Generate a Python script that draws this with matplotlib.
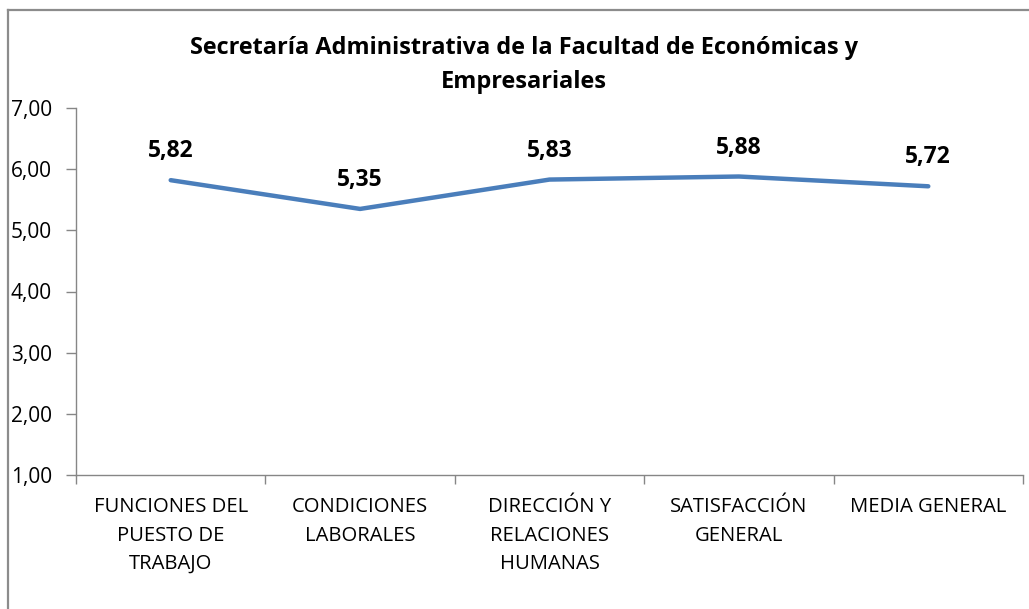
import matplotlib
matplotlib.use("Agg")
import matplotlib.pyplot as plt
from matplotlib.lines import Line2D
from matplotlib.ticker import FixedLocator, FuncFormatter

plt.rcParams['font.family'] = ['Open Sans', 'DejaVu Sans']

categories = ["FUNCIONES DEL\nPUESTO DE\nTRABAJO", "CONDICIONES\nLABORALES",
              "DIRECCIÓN Y\nRELACIONES\nHUMANAS", "SATISFACCIÓN\nGENERAL", "MEDIA GENERAL"]
values = [5.82, 5.35, 5.83, 5.88, 5.72]
value_labels = ["5,82", "5,35", "5,83", "5,88", "5,72"]
y_ticks = [1, 2, 3, 4, 5, 6, 7]
title = "Secretaría Administrativa de la Facultad de Económicas y\nEmpresariales"

W, H = 1029, 609
fig = plt.figure(figsize=(W / 100, H / 100), dpi=100)
ax = fig.add_axes([76 / W, 1 - 475 / H, (1023 - 76) / W, (475 - 108) / H])

x = list(range(len(values)))
ax.plot(x, values, color="#4A7EBB", linewidth=3.2, solid_capstyle="round", solid_joinstyle="round")
for xi, v, lab in zip(x, values, value_labels):
    ax.annotate(lab, (xi, v), xytext=(0, 16.5), textcoords="offset points",
                ha="center", va="baseline", fontsize=16.5, fontweight="bold", color="black")

ax.set_xlim(-0.5, len(values) - 0.5)
ax.set_ylim(1, 7)
ax.set_yticks(y_ticks)
ax.yaxis.set_major_formatter(FuncFormatter(lambda v, p: f"{v:.2f}".replace(".", ",")))
ax.set_xticks(x)
ax.set_xticklabels(categories, fontsize=14.6, linespacing=1.56)
ax.xaxis.set_minor_locator(FixedLocator([i - 0.5 for i in range(len(values) + 1)]))
ax.tick_params(axis="x", which="major", length=0, pad=16)
ax.tick_params(axis="x", which="minor", length=6.5, width=1, color="#868686", direction="out")
ax.tick_params(axis="y", length=7.5, width=1, color="#868686", direction="out", labelsize=15, pad=10)

for s in ["top", "right"]:
    ax.spines[s].set_visible(False)
for s in ["left", "bottom"]:
    ax.spines[s].set_color("#868686")
    ax.spines[s].set_linewidth(1)

fig.text(524 / W, 1 - 65 / H, title, ha="center", va="center", fontsize=16.9,
         fontweight="bold", linespacing=1.6)

# chart area border
fig.add_artist(Line2D([8 / W, 8 / W], [0, 1 - 9.5 / H], color="#8c8c8c", linewidth=1.6, transform=fig.transFigure))
fig.add_artist(Line2D([8 / W, 1], [1 - 9.5 / H, 1 - 9.5 / H], color="#8c8c8c", linewidth=1.6, transform=fig.transFigure))

fig.savefig("out.png", dpi=100)
